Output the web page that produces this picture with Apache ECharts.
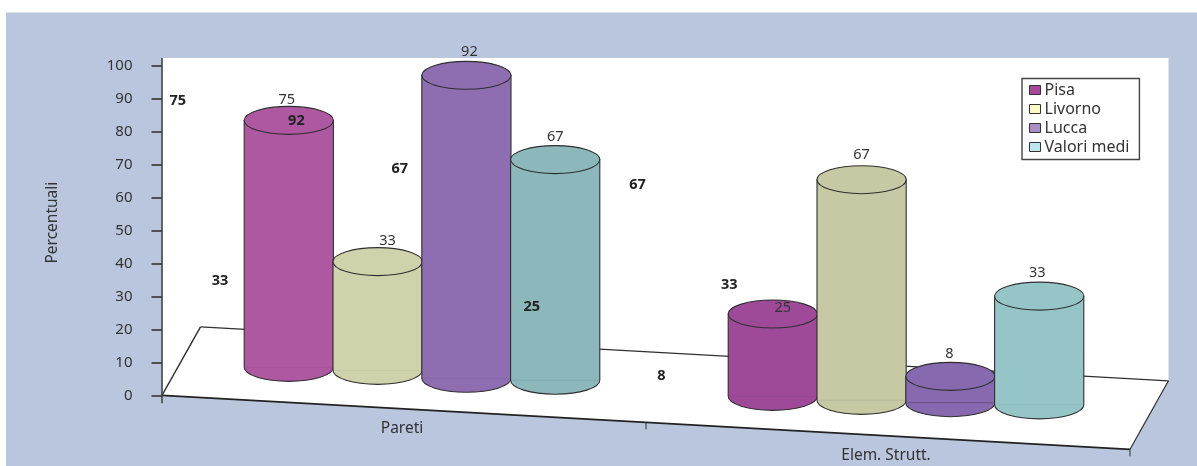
<!DOCTYPE html>
<html>
<head>
<meta charset="utf-8">
<style>html,body{margin:0;padding:0;background:#fff}#chart{width:1197px;height:466px}</style>
<script src="https://cdn.jsdelivr.net/npm/echarts@6/dist/echarts.min.js"></script>
</head>
<body>
<div id="chart"></div>
<script>
// Survey results by province and building element
const categories = ['Pareti', 'Elem. Strutt.'];
const seriesNames = ['Pisa', 'Livorno', 'Lucca', 'Valori medi'];
const pisa = [75, 25];
const livorno = [33, 67];
const lucca = [92, 8];
const valoriMedi = [67, 33];
const yTicks = [0, 100, 10];

const allValues = [pisa, livorno, lucca, valoriMedi];

// Perspective layout of the floor plate and cylinders (pixels)
const FONT = '"Noto Sans", sans-serif';
const TEXT = '#333';
const INK = '#2f2f2f';
const SLOPE = 54 / 968;        // drop of the front edge per px of x
const DEPTH = [38.5, -68.5];   // floor depth offset, back corner relative to front corner
const TOP_Y = 58;
const SLOT = 88.8, RX = 44.6, RY = 14;
const GROUP_SHIFT = 18;        // cylinders stand toward the back of the floor, right of the band centre

// Per-cylinder appearance, indexed [series][category]
const bodyColors = [['#ad58a1', '#9e4a99'], ['#cfd2aa', '#c6c9a3'], ['#8e6eb0', '#8669ae'], ['#8cb8bb', '#96c5c8']];
const swatchColors = ['#a8489b', '#fcf8c8', '#a98fc4', '#c0e6ee'];
const baseLift = [[35, 33], [37, 34], [34, 36.6], [37, 39.4]];
const baseLineAlpha = [[0.03, 0.06], [0.06, 0.08], [0.08, 0.32], [0.1, 0.08]];
const labelShift = [[[-2, -21], [10, -6]], [[10, -21], [0, -24.5]], [[3, -23], [-1, -22.5]], [[0, -23], [-2, -23.5]]];
const boldShift = [[[-111, -20], [-241, -6.7]], [[-157.6, 19.2], [-224, 5]], [[-170, 45.8], [-289, -0.8]], [[-155.5, 9.7], [-310, -11.7]]];

// Screen position of a cylinder's top-centre and base-centre
function cylinder(api, s, c, value) {
  const zero = api.coord([c, 0]);
  const top = api.coord([c, value]);
  const x = zero[0] + GROUP_SHIFT + (s - 1.5) * SLOT;
  const baseY = zero[1] + SLOPE * (x - api.coord([0, 0])[0] + api.size([1, 0])[0] / 2) - baseLift[s][c];
  return { x, baseY, topY: baseY - (zero[1] - top[1]) };
}

function renderCylinder(s) {
  return function (params, api) {
    const c = api.value(0), value = api.value(1);
    const g = cylinder(api, s, c, value);
    const fill = bodyColors[s][c];
    const l = g.x - RX, r = g.x + RX;
    const side = `M${l} ${g.topY}L${l} ${g.baseY}A${RX} ${RY} 0 0 0 ${r} ${g.baseY}L${r} ${g.topY}Z`;
    return {
      type: 'group',
      children: [
        { type: 'path', shape: { pathData: side }, style: { fill, stroke: INK, lineWidth: 1.1 } },
        { type: 'line', shape: { x1: l + 2, y1: g.baseY, x2: r - 2, y2: g.baseY }, style: { stroke: 'rgba(40,30,60,' + baseLineAlpha[s][c] + ')', lineWidth: 1 } },
        { type: 'ellipse', shape: { cx: g.x, cy: g.topY, rx: RX, ry: RY }, style: { fill, stroke: INK, lineWidth: 1.1 } }
      ]
    };
  };
}

function renderFloor(params, api) {
  const cs = params.coordSys;
  const x0 = cs.x, y0 = cs.y + cs.height, x1 = cs.x + cs.width;
  const yEnd = y0 + SLOPE * cs.width;
  const bx = DEPTH[0], by = DEPTH[1];
  const mid = x0 + cs.width / 2;
  const edge = { stroke: INK, lineWidth: 1.2 };
  const tick = (x) => ({ type: 'line', shape: { x1: x, y1: y0 + SLOPE * (x - x0), x2: x, y2: y0 + SLOPE * (x - x0) + 7 }, style: { stroke: INK, lineWidth: 1 } });
  return {
    type: 'group',
    children: [
      { type: 'polygon', shape: { points: [[x0, TOP_Y], [x1 + bx, TOP_Y], [x1 + bx, yEnd + by], [x1, yEnd], [x0, y0]] }, style: { fill: '#fff' } },
      { type: 'line', shape: { x1: x0 + bx, y1: y0 + by, x2: x1 + bx, y2: yEnd + by }, style: edge },
      { type: 'line', shape: { x1: x0, y1: y0, x2: x0 + bx, y2: y0 + by }, style: { stroke: INK, lineWidth: 1.4 } },
      { type: 'line', shape: { x1: x1, y1: yEnd, x2: x1 + bx, y2: yEnd + by }, style: edge },
      { type: 'line', shape: { x1: x0, y1: y0, x2: x1, y2: yEnd }, style: { stroke: '#222', lineWidth: 1.8 } },
      { type: 'line', shape: { x1: x0, y1: TOP_Y, x2: x0, y2: y0 + 8 }, style: { stroke: '#444', lineWidth: 1.6 } },
      tick(mid), tick(x1)
    ]
  };
}

// Category names sit under the sloping front edge
function renderCategoryName(params, api) {
  const c = api.value(0);
  const p = api.coord([c, 0]);
  const cs = params.coordSys;
  return {
    type: 'text', x: p[0] - 2, y: p[1] + SLOPE * (p[0] - cs.x) + 20,
    style: { text: categories[c], fill: TEXT, font: '15.5px ' + FONT, align: 'center', verticalAlign: 'middle' }
  };
}

function renderLabels(params, api) {
  const s = api.value(0), c = api.value(1), value = api.value(2);
  const g = cylinder(api, s, c, value);
  const plain = labelShift[s][c], bold = boldShift[s][c];
  return {
    type: 'group',
    children: [
      { type: 'text', x: g.x + plain[0], y: g.topY + plain[1], style: { text: String(value), fill: TEXT, font: '14.5px ' + FONT, align: 'center', verticalAlign: 'middle' } },
      { type: 'text', x: g.x + bold[0], y: g.topY + bold[1], style: { text: String(value), fill: '#222', font: 'bold 14.5px ' + FONT, align: 'center', verticalAlign: 'middle' } }
    ]
  };
}

const labelRows = [];
allValues.forEach((vals, s) => vals.forEach((v, c) => labelRows.push([s, c, v])));

const option = {
  animation: false,
  backgroundColor: '#fff',
  textStyle: { fontFamily: FONT },
  graphic: [{ type: 'rect', z: -1, shape: { x: 6, y: 12.5, width: 1191, height: 454 }, style: { fill: '#b9c6de' } }],
  grid: { left: 162, right: 67, top: 66, bottom: 70.7, containLabel: false },
  legend: {
    left: 1022, top: 78.5, orient: 'vertical', padding: [2, 10, 3, 7],
    backgroundColor: '#fff', borderColor: '#444', borderWidth: 1.4,
    itemWidth: 11, itemHeight: 9, itemGap: 0, z: 20,
    textStyle: { color: TEXT, fontSize: 16, fontFamily: FONT, padding: [0, 0, 0, -1], lineHeight: 19 },
    data: seriesNames.map((name, i) => ({
      name, icon: 'rect',
      itemStyle: { color: swatchColors[i], borderColor: '#333', borderWidth: 1 }
    }))
  },
  xAxis: { type: 'category', data: categories, axisLine: { show: false }, axisTick: { show: false }, axisLabel: { show: false } },
  yAxis: {
    type: 'value', min: yTicks[0], max: yTicks[1], interval: yTicks[2], z: 5,
    name: 'Percentuali', nameLocation: 'middle', nameGap: 101,
    nameTextStyle: { color: TEXT, fontSize: 15.5, fontFamily: FONT, padding: [0, 0, 0, 16] },
    axisLine: { show: false },
    axisTick: { show: true, length: 10.5, lineStyle: { color: '#333', width: 1.6 } },
    axisLabel: { color: TEXT, fontSize: 15, fontFamily: FONT, margin: 29.5 },
    splitLine: { show: false }
  },
  series: [
    { type: 'custom', name: 'floor', z: 1, silent: true, coordinateSystem: 'cartesian2d', renderItem: renderFloor, data: [[0, 0]], clip: false },
    ...seriesNames.map((name, s) => ({
      type: 'custom', name, z: 2 + s, coordinateSystem: 'cartesian2d', clip: false,
      itemStyle: { color: swatchColors[s] },
      renderItem: renderCylinder(s),
      data: allValues[s].map((v, c) => [c, v])
    })),
    { type: 'custom', name: 'names', z: 10, silent: true, coordinateSystem: 'cartesian2d', clip: false, renderItem: renderCategoryName, data: categories.map((_, c) => [c, 0]) },
    { type: 'custom', name: 'labels', z: 10, silent: true, coordinateSystem: 'cartesian2d', clip: false, renderItem: renderLabels, data: labelRows, encode: { x: 1, y: 2 } }
  ]
};

echarts.init(document.getElementById('chart'), null, { renderer: 'canvas' }).setOption(option);
</script>
</body>
</html>
